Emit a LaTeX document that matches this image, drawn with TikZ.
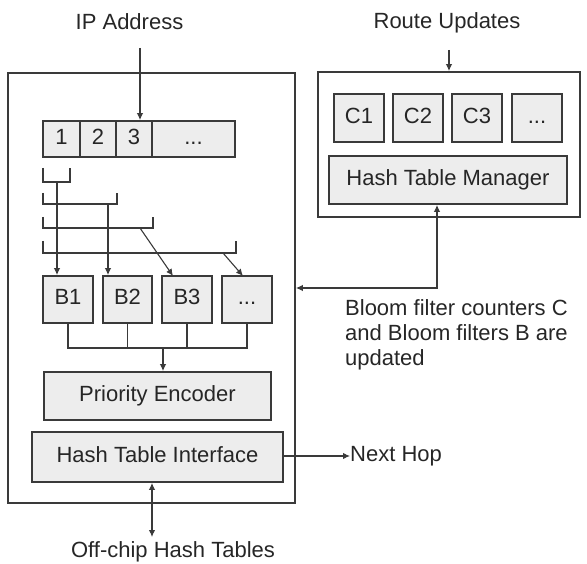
\documentclass[tikz,border=0pt]{standalone}
\usepackage{fontspec}
\setmainfont{Liberation Sans}
\usetikzlibrary{arrows.meta}
\definecolor{boxline}{HTML}{3A3A3A}
\definecolor{boxfill}{HTML}{EDEDED}
\definecolor{txt}{HTML}{262626}
\tikzset{
  frame/.style={draw=boxline, line width=1.8pt, inner sep=0pt, fill=white},
  cell/.style={draw=boxline, line width=1.8pt, fill=boxfill, inner sep=0pt, text=txt, text height=15pt, text depth=4pt, font=\fontsize{22}{26}\selectfont},
  lbl/.style={inner sep=0pt, text=txt, font=\fontsize{22}{26}\selectfont},
  conn/.style={draw=boxline, line width=1.1pt},
  arr/.style={conn, -{Latex[length=7pt,width=6.5pt]}},
  darr/.style={conn, {Latex[length=7pt,width=6.5pt]}-{Latex[length=7pt,width=6.5pt]}},
  brk/.style={draw=boxline, line width=1.5pt},
}
\begin{document}
\begin{tikzpicture}[x=1pt,y=-1pt]
\useasboundingbox (0,0) rectangle (587,564);
% frames
\node[frame, minimum width=287pt, minimum height=430pt] (lbox) at (151.5,288) {};
\node[frame, minimum width=262pt, minimum height=145pt] (rbox) at (449,144.5) {};
% top labels
\node[lbl] (ip) at (129.5,22) {IP Address};
\node[lbl] (ru) at (447,23) {Route Updates};
% address cells
\node[cell, minimum width=37pt, minimum height=36pt] (a1) at (61.5,139) {1};
\node[cell, minimum width=36pt, minimum height=36pt] (a2) at (98,139) {2};
\node[cell, minimum width=36pt, minimum height=36pt] (a3) at (134,139) {3};
\node[cell, minimum width=83pt, minimum height=36pt] (a4) at (193.5,139) {...};
% brackets
\draw[brk] (43,168) -- (43,182) -- (70,182) -- (70,168);
\draw[brk] (43,193) -- (43,204) -- (117,204) -- (117,193);
\draw[brk] (43,217) -- (43,228) -- (153,228) -- (153,217);
\draw[brk] (43,241) -- (43,253) -- (236,253) -- (236,241);
\coordinate (k1) at (57,182);
\coordinate (k2) at (108,204);
\coordinate (k3) at (140,228);
\coordinate (k4) at (223,253);
% bloom filters
\node[cell, minimum width=50pt, minimum height=47pt] (b1) at (68,299.5) {B1};
\node[cell, minimum width=49pt, minimum height=47pt] (b2) at (127.5,299.5) {B2};
\node[cell, minimum width=50pt, minimum height=47pt] (b3) at (187,299.5) {B3};
\node[cell, minimum width=50pt, minimum height=47pt] (b4) at (247,299.5) {...};
% encoder and interface
\node[cell, minimum width=227pt, minimum height=48pt] (pe) at (157.5,396) {Priority Encoder};
\node[cell, minimum width=251pt, minimum height=50pt] (hti) at (157.5,457) {Hash Table Interface};
% right box content
\node[cell, minimum width=50pt, minimum height=48pt] (c1) at (359,118) {C1};
\node[cell, minimum width=50pt, minimum height=48pt] (c2) at (418,118) {C2};
\node[cell, minimum width=50pt, minimum height=48pt] (c3) at (477,118) {C3};
\node[cell, minimum width=50pt, minimum height=48pt] (c4) at (537,118) {...};
\node[cell, minimum width=238pt, minimum height=48pt] (htm) at (448,180) {Hash Table Manager};
% other labels
\node[lbl, anchor=west] (nh) at (350,456) {Next Hop};
\node[lbl] (off) at (173,552) {Off-chip Hash Tables};
\node[lbl, anchor=north west, align=left, font=\fontsize{22}{25}\selectfont] (bf) at (345,299) {Bloom filter counters C\\and Bloom filters B are\\updated};
% connectors
\coordinate (ipstart) at (140,48);
\draw[arr] (ipstart) -- (ipstart |- a3.north);
\coordinate (rustart) at (449,50);
\draw[arr] (rustart) -- (rustart |- rbox.north);
\draw[arr] (k1) -- (k1 |- b1.north);
\draw[arr] (k2) -- (k2 |- b2.north);
\draw[arr] (k3) -- (173,276);
\draw[arr] (k4) -- (243,276);
% bus
\coordinate (bus) at (163,348);
\draw[conn] (b1.south) -- (b1.south |- bus) -- (b4.south |- bus) -- (b4.south);
\draw[conn] (b2.south) -- (b2.south |- bus);
\draw[conn] (b3.south) -- (b3.south |- bus);
\draw[arr] (bus) -- (bus |- pe.north);
% outputs
\draw[arr] (hti.east |- nh.west) -- (nh.west);
\coordinate (offend) at (152,537);
\draw[darr] (offend |- hti.south) -- (offend);
% update path
\coordinate (upd) at (437,288);
\draw[darr] (upd |- htm.south) -- (upd) -- (upd -| lbox.east);
\end{tikzpicture}
\end{document}
